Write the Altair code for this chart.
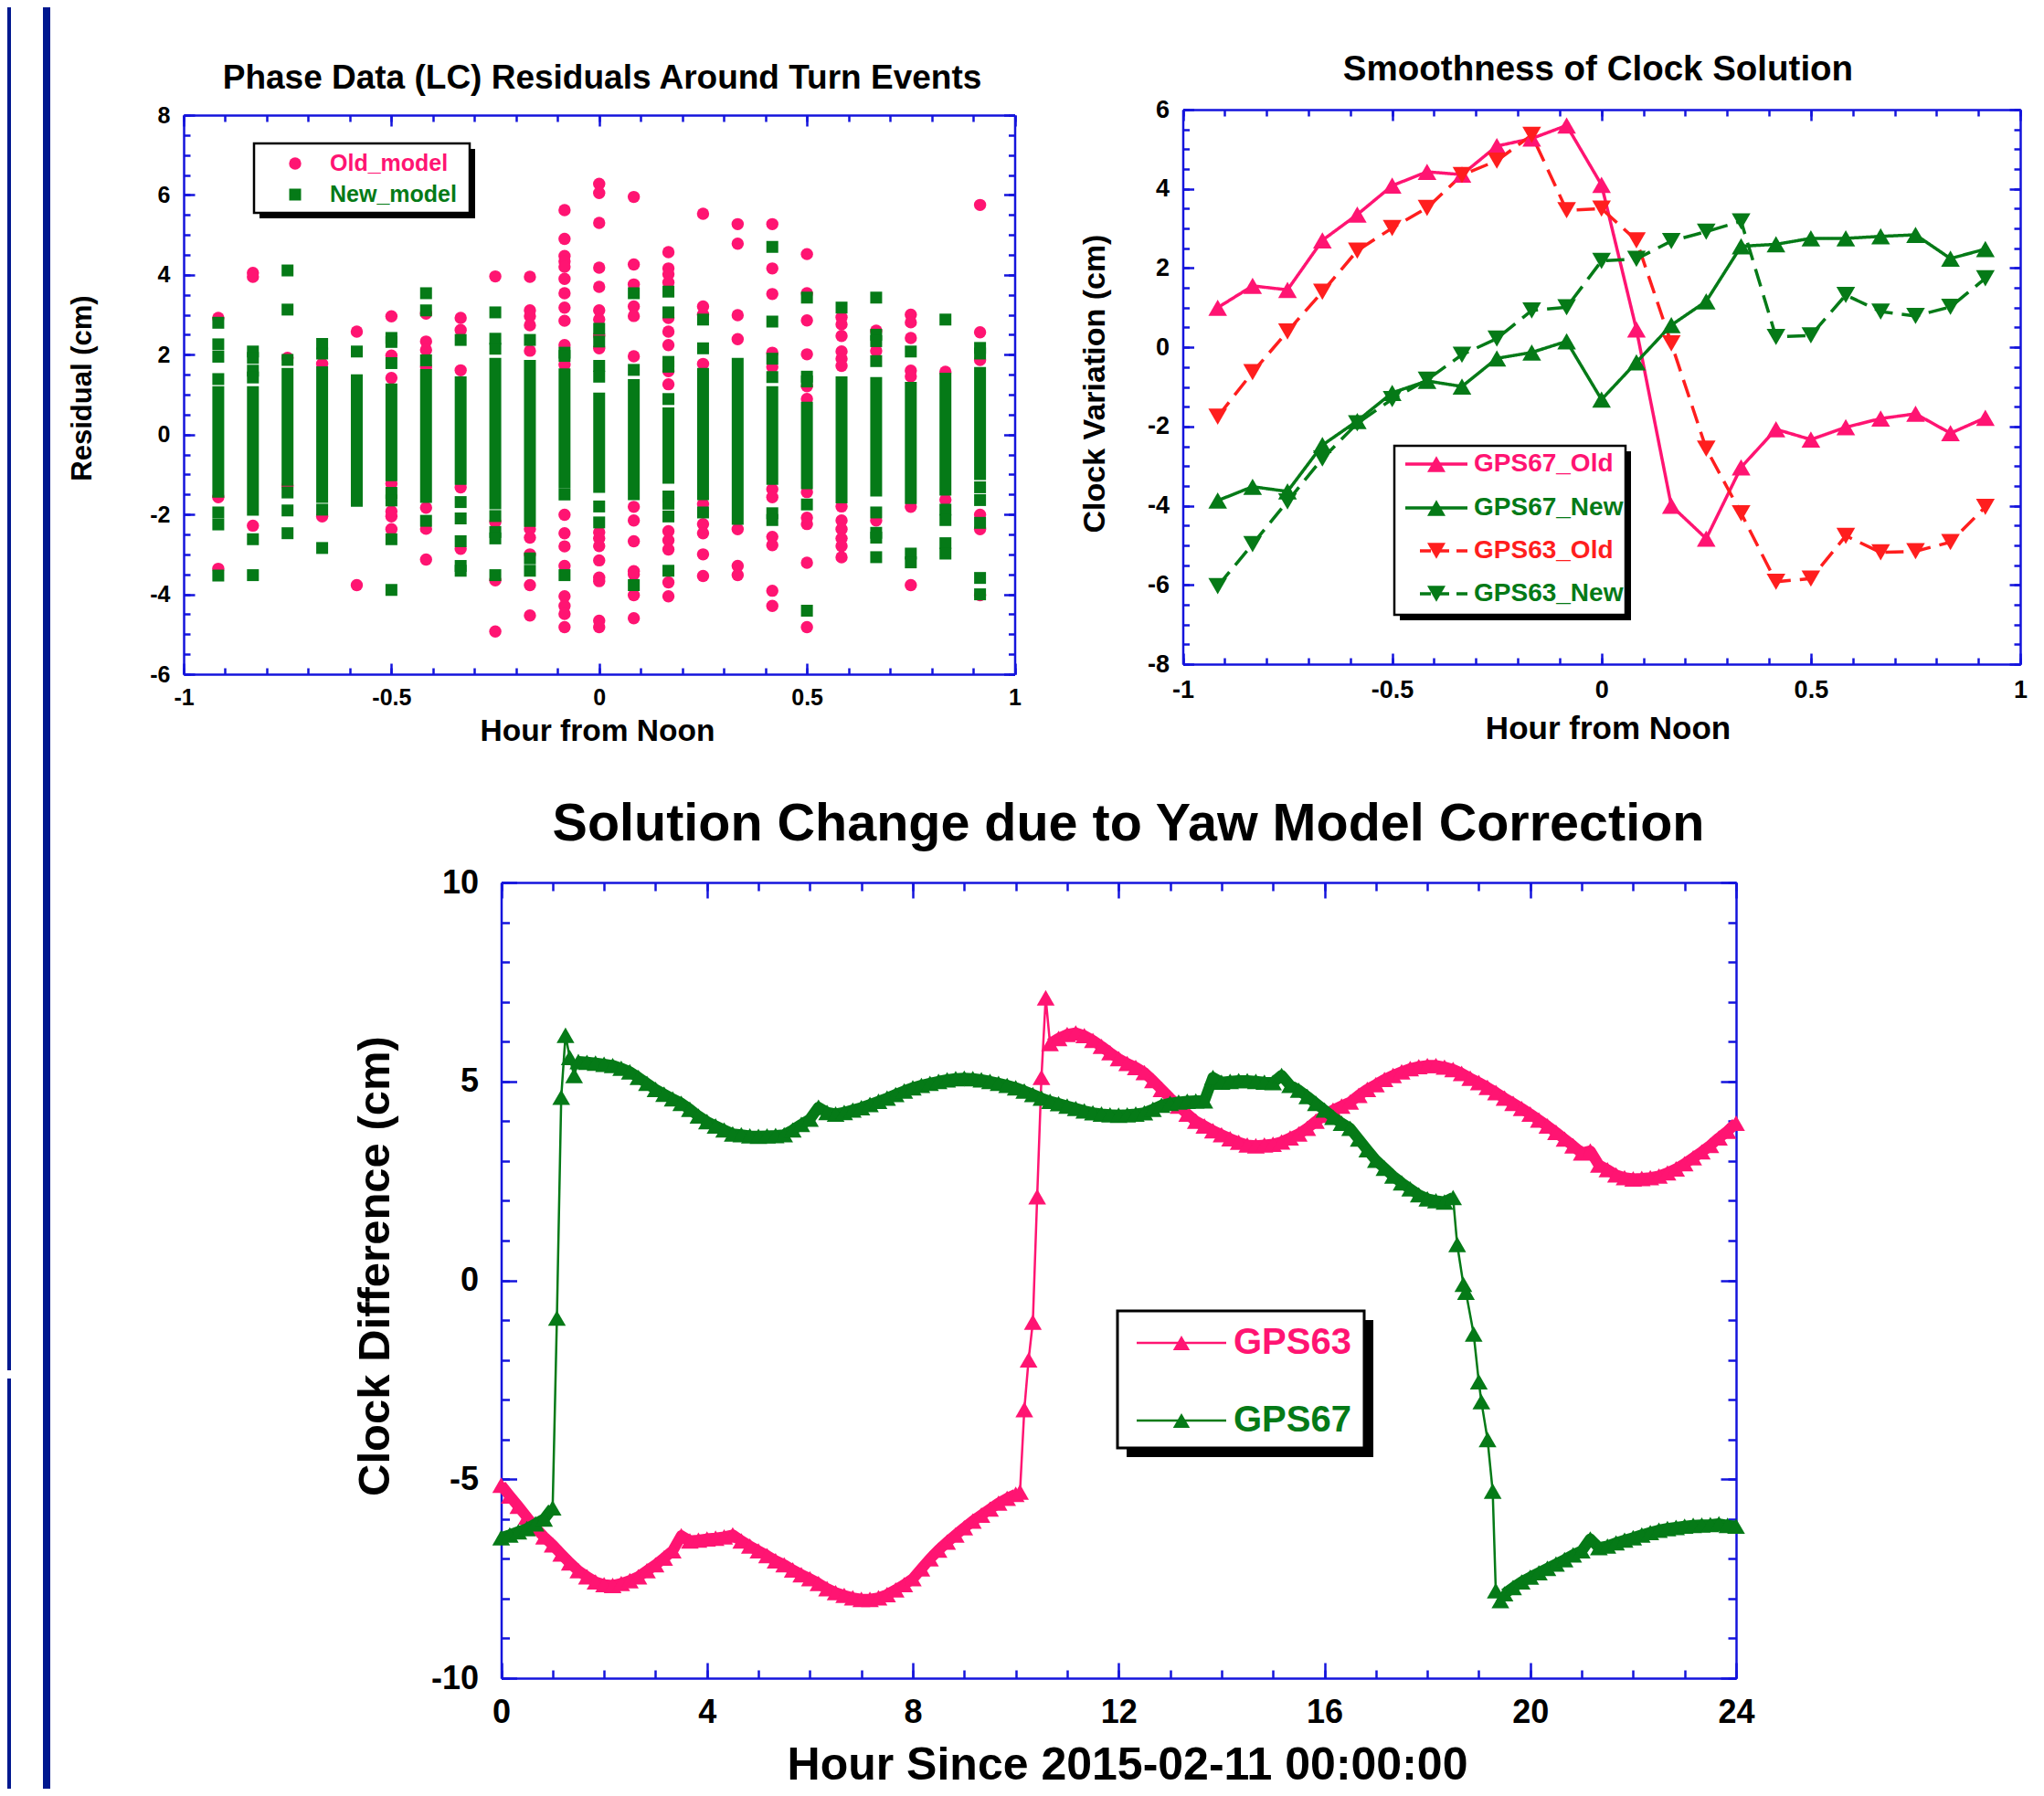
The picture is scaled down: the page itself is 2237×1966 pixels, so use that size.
import altair as alt
import pandas as pd

# ---------------- canvas / layout ----------------
W, H = 2221, 1950
BLUE = "#1414DC"
NAVY = "#00188F"
PINK = "#FF1472"
GREEN = "#057A17"
RED = "#FF1E1E"
FONT = "Liberation Sans"

PA = dict(x0=193, x1=1102.5, y0=118, y1=730)     # top-left panel frame
PB = dict(x0=1286.5, x1=2203, y0=112, y1=719)    # top-right panel frame
PC = dict(x0=540.5, x1=1892, y0=958, y1=1829)    # bottom panel frame

# ---------------- data: top-left (residuals) ----------------
COL_HOURS = [k / 12 for k in range(-11, 12)]
NEW_BAR_LO = [-1.58, -2.03, -1.28, -1.71, -1.81, -1.17, -1.71, -1.26, -1.87, -2.31, -1.35, -1.46,
              -1.64, -1.23, -1.64, -2.26, -1.26, -1.37, -1.72, -1.55, -1.74, -1.53, -1.14]
NEW_BAR_HI = [1.21, 1.21, 1.67, 1.71, 1.51, 1.28, 1.64, 1.46, 1.92, 1.87, 1.66, 1.05,
              1.39, 0.68, 1.67, 1.92, 1.21, 0.82, 1.46, 1.44, 1.32, 1.55, 1.69]
NEW_EXTRA = [
    [2.80, 2.26, 1.95, 1.39, -1.95, -2.25, -3.53],
    [2.08, 1.92, 1.60, 1.43, -2.62, -3.52],
    [4.11, 3.13, 1.87, -1.45, -1.90, -2.47],
    [2.27, 2.03, -1.88, -2.84],
    [2.08],
    [2.42, 2.32, 1.79, -1.46, -1.65, -2.62, -3.89],
    [3.54, 3.11, 1.86, -2.16],
    [2.37, -1.69, -2.10, -2.67, -3.29, -3.41],
    [3.06, 2.40, 2.15, -2.04, -2.44, -2.60, -3.52],
    [2.37, -3.10, -3.41],
    [2.05, 1.97, -1.50, -3.52],
    [2.65, 2.33, 1.72, 1.45, -1.80, -2.20],
    [3.54, 1.62, -3.77],
    [3.58, 3.06, 1.82, 1.70, 0.89, -1.55, -1.73, -2.05, -3.41],
    [2.88, 2.16, -1.95],
    [],
    [4.70, 2.83, 1.90, 1.44, -1.97, -2.14],
    [3.43, 1.45, 1.33, -1.75, -4.41],
    [3.18],
    [3.43, 2.50, 2.34, 1.84, -1.95, -2.46, -2.58, -3.07],
    [2.08, -2.98, -3.20],
    [2.88, -1.88, -2.14, -2.72, -2.98],
    [2.17, 2.03, -1.32, -1.64, -2.21, -3.59, -4.00],
]
OLD_DOTS = [
    [2.92, -1.57, -3.36],
    [4.05, 3.95, -2.28],
    [1.92, -1.28],
    [1.77, -2.05],
    [2.58, -3.77],
    [2.96, 1.98, 1.42, -1.23, -1.92, -2.05, -2.37],
    [3.03, 2.33, 2.12, 1.69, -1.83, -2.36, -3.13],
    [2.92, 2.62, 1.61, -1.32, -2.86],
    [3.96, -2.19, -3.65, -4.93],
    [3.95, 3.11, 2.97, 2.74, 2.10, -2.36, -2.58, -3.00, -3.77, -4.53],
    [5.62, 4.90, 4.47, 4.34, 4.20, 3.90, 3.54, 3.18, 2.85, 2.24, 1.75,
     -2.01, -2.47, -2.80, -3.29, -4.05, -4.29, -4.49, -4.82],
    [6.28, 6.05, 5.30, 4.18, 3.70, 3.11, 2.88, 2.48, 2.16,
     -2.45, -2.60, -2.79, -3.15, -3.58, -3.67, -4.66, -4.82],
    [5.95, 4.26, 3.76, 3.21, 2.97, 1.96, -1.81, -2.15, -2.67, -3.42, -3.50, -4.02, -4.60],
    [4.57, 4.16, 4.02, 3.81, 2.92, 2.58, 2.24, 1.59, 1.26, -2.42, -2.65, -2.88, -3.70, -4.05],
    [5.53, 3.21, 3.01, 1.77, -1.74, -2.24, -2.47, -3.00, -3.54],
    [5.27, 4.78, 2.99, 2.39, -2.37, -3.29, -3.52],
    [5.27, 4.16, 3.52, 2.05, 1.69, -1.37, -1.57, -2.56, -2.77, -3.91, -4.29],
    [4.52, 3.54, 2.86, 2.01, 1.21, 0.89, -1.44, -2.08, -2.24, -3.21, -4.82],
    [2.94, 2.76, 2.47, 2.08, 1.90, 1.72, -1.80, -2.15, -2.37, -2.60, -2.79, -3.07],
    [2.60, 2.10, -2.15],
    [3.00, 2.81, 2.42, 1.60, 1.46, -1.81, -3.77],
    [1.57, -1.63],
    [5.75, 2.56, 1.87, -2.01, -2.37, -4.02],
]

# ---------------- data: top-right (clock smoothness) ----------------
TR_SERIES = ["GPS67_Old", "GPS67_New", "GPS63_Old", "GPS63_New"]
GPS67_OLD = [1.00, 1.55, 1.45, 2.70, 3.35, 4.08, 4.43, 4.36, 5.08, 5.27, 5.60, 4.10,
             0.45, -4.00, -4.83, -3.03, -2.07, -2.33, -2.02, -1.80, -1.68, -2.17, -1.78]
GPS67_NEW = [-3.87, -3.52, -3.64, -2.47, -1.86, -1.15, -0.85, -0.99, -0.28, -0.13, 0.15, -1.32,
             -0.38, 0.56, 1.16, 2.55, 2.60, 2.75, 2.75, 2.80, 2.84, 2.24, 2.48]
GPS63_OLD = [-1.75, -0.63, 0.40, 1.40, 2.44, 3.01, 3.52, 4.35, 4.71, 5.36, 3.46, 3.50,
             2.70, 0.10, -2.56, -4.19, -5.92, -5.84, -4.76, -5.18, -5.15, -4.92, -4.03]
GPS63_NEW = [-6.03, -4.97, -3.89, -2.81, -1.92, -1.31, -0.82, -0.19, 0.22, 0.93, 1.01, 2.18,
             2.23, 2.68, 2.92, 3.18, 0.26, 0.30, 1.32, 0.90, 0.79, 1.02, 1.74]

# ---------------- data: bottom (clock difference, 10-min samples) ----------------
G63_SEG1_START = 0.0
G63_SEG1 = [-5.15, -5.42, -5.68, -5.95, -6.22, -6.45,
            -6.65, -6.88, -7.10, -7.30, -7.45, -7.58,
            -7.65, -7.67, -7.62, -7.55, -7.45, -7.30,
            -7.15, -6.98, -6.80, -6.42, -6.55, -6.53,
            -6.50, -6.48, -6.45, -6.40, -6.55, -6.68,
            -6.80, -6.92, -7.05, -7.15, -7.28, -7.40,
            -7.50, -7.62, -7.75, -7.85, -7.92, -7.98,
            -8.02, -8.02, -7.98, -7.90, -7.78, -7.65,
            -7.50, -7.25, -7.00, -6.78, -6.58, -6.40,
            -6.22, -6.05, -5.90, -5.75, -5.60, -5.48,
            -5.38]
G63_JUMP_H = [10.083, 10.167, 10.25, 10.333, 10.417, 10.5, 10.583]
G63_JUMP_V = [-5.32, -3.25, -2.00, -1.05, 2.10, 5.10, 7.10]
G63_SEG2_START = 64 / 6
G63_SEG2 = [5.95, 6.08,
            6.18, 6.22, 6.15, 6.03, 5.88, 5.72,
            5.57, 5.45, 5.35, 5.22, 5.02, 4.80,
            4.58, 4.38, 4.18, 4.00, 3.88, 3.76,
            3.66, 3.56, 3.47, 3.40, 3.38, 3.40,
            3.42, 3.48, 3.58, 3.68, 3.82, 4.00,
            4.15, 4.28, 4.38, 4.48, 4.65, 4.80,
            4.92, 5.05, 5.15, 5.24, 5.32, 5.37,
            5.40, 5.40, 5.36, 5.30, 5.20, 5.08,
            4.97, 4.85, 4.72, 4.58, 4.45, 4.32,
            4.18, 4.03, 3.88, 3.72, 3.55, 3.38,
            3.20, 3.25, 2.90, 2.78, 2.65, 2.58,
            2.55, 2.56, 2.58, 2.62, 2.70, 2.80,
            2.93, 3.08, 3.23, 3.39, 3.58, 3.75,
            3.95]

G67_SEG1_START = 0.0
G67_SEG1 = [-6.47, -6.40, -6.32, -6.24, -6.12, -6.00, -5.72]
G67_JUMP1_H = [1.083, 1.167, 1.25, 1.333, 1.417]
G67_JUMP1_V = [-0.95, 4.60, 6.16, 5.60, 5.15]
G67_SEG2_START = 1.5
G67_SEG2 = [5.50, 5.48, 5.46,
            5.43, 5.40, 5.33, 5.24, 5.10, 4.95,
            4.80, 4.68, 4.56, 4.45, 4.30, 4.13,
            3.99, 3.88, 3.78, 3.68, 3.66, 3.63,
            3.62, 3.63, 3.64, 3.66, 3.78, 3.92,
            4.05, 4.35, 4.22, 4.18, 4.22, 4.28,
            4.34, 4.42, 4.50, 4.58, 4.67, 4.76,
            4.84, 4.90, 4.95, 5.00, 5.04, 5.07,
            5.08, 5.07, 5.04, 5.00, 4.95, 4.90,
            4.84, 4.76, 4.67, 4.58, 4.50, 4.44,
            4.38, 4.32, 4.26, 4.21, 4.18, 4.16,
            4.15, 4.16, 4.18, 4.21, 4.30, 4.40,
            4.45, 4.48, 4.50, 4.51, 4.51, 5.10,
            4.98, 5.00, 5.02, 5.02, 5.00, 4.98,
            4.97, 5.15, 4.90, 4.78, 4.62, 4.45,
            4.28, 4.10, 3.95, 3.82, 3.55, 3.28,
            3.02, 2.82, 2.62, 2.45, 2.30, 2.15,
            2.05, 2.00, 1.97, 2.08]
G67_JUMP2_H = [18.58, 18.70, 18.75, 18.90, 19.00, 19.05, 19.17, 19.27, 19.33, 19.42]
G67_JUMP2_V = [0.90, -0.10, -0.30, -1.35, -2.55, -3.05, -4.00, -5.30, -7.80, -8.05]
G67_SEG3_START = 19.5
G67_SEG3 = [-7.88, -7.72, -7.58,
            -7.46, -7.35, -7.24, -7.13, -7.02, -6.90,
            -6.80, -6.50, -6.72, -6.68, -6.60, -6.53,
            -6.47, -6.40, -6.34, -6.28, -6.24, -6.21,
            -6.18, -6.16, -6.15, -6.14, -6.12, -6.16,
            -6.18]

# ---------------- axis tick values ----------------
A_XMAJ = [-1, -0.5, 0, 0.5, 1]
A_XMIN = [round(-1 + 0.1 * i, 2) for i in range(21)]
A_YMAJ = [-6, -4, -2, 0, 2, 4, 6, 8]
A_YMIN = [-6 + 0.5 * i for i in range(29)]
B_YMAJ = [-8, -6, -4, -2, 0, 2, 4, 6]
B_YMIN = [-8 + 0.5 * i for i in range(29)]
C_XMAJ = [0, 4, 8, 12, 16, 20, 24]
C_XMIN = list(range(25))
C_YMAJ = [-10, -5, 0, 5, 10]
C_YMIN = list(range(-10, 11))


# ---------------- helpers ----------------
def scale_x(P, dom):
    return alt.Scale(domain=dom, range=[P["x0"], P["x1"]], nice=False, zero=False)


def scale_y(P, dom):
    return alt.Scale(domain=dom, range=[P["y1"], P["y0"]], nice=False, zero=False)


def axes_layers(P, xdom, ydom, xmaj, xmin, ymaj, ymin, tmaj, tmin, lsize, xpad, ypad):
    base = pd.DataFrame({"x": [xdom[0]], "y": [ydom[0]]})
    common = dict(grid=False, title=None, tickColor=BLUE, tickWidth=2.5,
                  domainColor=BLUE, domainWidth=2.5, labels=False, ticks=True)

    def ax(orient, offset, values, size, domain):
        return alt.Axis(orient=orient, offset=offset, values=values, tickSize=size,
                        domain=domain, **common)

    specs = [
        (ax("top", -P["y1"], xmaj, tmaj, True), ax("right", P["x0"] - W, ymaj, tmaj, True)),
        (ax("bottom", P["y0"] - H, xmaj, tmaj, True), ax("left", -P["x1"], ymaj, tmaj, True)),
        (ax("top", -P["y1"], xmin, tmin, False), ax("right", P["x0"] - W, ymin, tmin, False)),
        (ax("bottom", P["y0"] - H, xmin, tmin, False), ax("left", -P["x1"], ymin, tmin, False)),
    ]
    out = []
    for xa, ya in specs:
        out.append(alt.Chart(base).mark_point(opacity=0).encode(
            x=alt.X("x:Q", scale=scale_x(P, xdom), axis=xa),
            y=alt.Y("y:Q", scale=scale_y(P, ydom), axis=ya)))
    lab = dict(grid=False, title=None, domain=False, ticks=False, labels=True,
               labelFont=FONT, labelFontSize=lsize, labelFontWeight="bold",
               labelColor="black", labelOverlap=False, labelFlush=False,
               labelExpr="toString(datum.value)", labelAngle=0)
    out.append(alt.Chart(base).mark_point(opacity=0).encode(
        x=alt.X("x:Q", scale=scale_x(P, xdom),
                axis=alt.Axis(orient="bottom", offset=P["y1"] - H, values=xmaj,
                              labelPadding=xpad, **lab)),
        y=alt.Y("y:Q", scale=scale_y(P, ydom),
                axis=alt.Axis(orient="left", offset=-P["x0"], values=ymaj,
                              labelPadding=ypad, **lab))))
    return out


def text(s, x, y, size, color="black", align="center", baseline="alphabetic", angle=0):
    return alt.Chart(pd.DataFrame({"t": [s]})).mark_text(
        font=FONT, fontSize=size, fontWeight="bold", color=color, align=align,
        baseline=baseline, angle=angle).encode(x=alt.value(x), y=alt.value(y), text="t:N")


def rect(x0, x1, y0, y1, fill, stroke=None, sw=0):
    kw = dict(fill=fill, opacity=1)
    if stroke:
        kw.update(stroke=stroke, strokeWidth=sw)
    return alt.Chart(pd.DataFrame({"a": [0]})).mark_rect(**kw).encode(
        x=alt.value(x0), x2=alt.value(x1), y=alt.value(y0), y2=alt.value(y1))


def symbol(x, y, shape, color, size):
    return alt.Chart(pd.DataFrame({"a": [0]})).mark_point(
        shape=shape, filled=True, size=size, color=color, opacity=1).encode(
        x=alt.value(x), y=alt.value(y))


def hline(x0, x1, y, color, width, dash=None):
    kw = dict(color=color, strokeWidth=width)
    if dash:
        kw["strokeDash"] = dash
    return alt.Chart(pd.DataFrame({"a": [0]})).mark_rule(**kw).encode(
        x=alt.value(x0), x2=alt.value(x1), y=alt.value(y))


def legend_box(x0, x1, y0, y1, shadow, bw):
    return [rect(x0 + shadow, x1 + shadow, y0 + shadow, y1 + shadow, "black"),
            rect(x0, x1, y0, y1, "white", "black", bw)]


layers = []

# ---------------- left border stripes ----------------
layers += [rect(0, 4, 0, 1492, NAVY), rect(0, 4, 1501, H, NAVY), rect(39, 47, 0, H, NAVY)]

# ---------------- panel A ----------------
AX, AY = [-1, 1], [-6, 8]
layers += axes_layers(PA, AX, AY, A_XMAJ, A_XMIN, A_YMAJ, A_YMIN, 12, 7, 25, 13, 15)

dots = pd.DataFrame([(COL_HOURS[i], v) for i, vals in enumerate(OLD_DOTS) for v in vals],
                    columns=["x", "y"])
sq = pd.DataFrame([(COL_HOURS[i], v) for i, vals in enumerate(NEW_EXTRA) for v in vals],
                  columns=["x", "y"])
bars = pd.DataFrame({"x": COL_HOURS, "lo": NEW_BAR_LO, "hi": NEW_BAR_HI})

layers.append(alt.Chart(dots).mark_point(shape="circle", filled=True, size=180, color=PINK,
                                         opacity=1).encode(
    x=alt.X("x:Q", scale=scale_x(PA, AX), axis=None),
    y=alt.Y("y:Q", scale=scale_y(PA, AY), axis=None)))
layers.append(alt.Chart(bars).mark_rule(strokeWidth=13, color=GREEN, strokeCap="butt").encode(
    x=alt.X("x:Q", scale=scale_x(PA, AX), axis=None),
    y=alt.Y("lo:Q", scale=scale_y(PA, AY), axis=None),
    y2="hi:Q"))
layers.append(alt.Chart(sq).mark_point(shape="square", filled=True, size=169, color=GREEN,
                                       opacity=1).encode(
    x=alt.X("x:Q", scale=scale_x(PA, AX), axis=None),
    y=alt.Y("y:Q", scale=scale_y(PA, AY), axis=None)))

layers += legend_box(270, 506, 149, 225, 6, 2.5)
layers += [symbol(315, 171, "circle", PINK, 180), symbol(315, 205, "square", GREEN, 169),
           text("Old_model", 353, 171, 25, PINK, "left", "middle"),
           text("New_model", 353, 205, 25, GREEN, "left", "middle")]
layers += [text("Phase Data (LC) Residuals Around Turn Events", 651, 89, 37),
           text("Hour from Noon", 646, 803, 33.5),
           text("Residual (cm)", 92, 417, 31, angle=270)]

# ---------------- panel B ----------------
BX, BY = [-1, 1], [-8, 6]
layers += axes_layers(PB, BX, BY, A_XMAJ, A_XMIN, B_YMAJ, B_YMIN, 12, 7, 27, 15, 15)

tr = pd.DataFrame({
    "x": COL_HOURS * 4,
    "y": GPS67_OLD + GPS67_NEW + GPS63_OLD + GPS63_NEW,
    "series": sum([[s] * len(COL_HOURS) for s in TR_SERIES], []),
})
TR_COLORS = [PINK, GREEN, RED, GREEN]
TR_DASH = [[1, 0], [1, 0], [20, 10], [20, 10]]
TR_SHAPES = ["triangle-up", "triangle-up", "triangle-down", "triangle-down"]
layers.append(alt.Chart(tr).mark_line(strokeWidth=3.5).encode(
    x=alt.X("x:Q", scale=scale_x(PB, BX), axis=None),
    y=alt.Y("y:Q", scale=scale_y(PB, BY), axis=None),
    color=alt.Color("series:N", scale=alt.Scale(domain=TR_SERIES, range=TR_COLORS), legend=None),
    strokeDash=alt.StrokeDash("series:N", scale=alt.Scale(domain=TR_SERIES, range=TR_DASH),
                              legend=None)))
layers.append(alt.Chart(tr).mark_point(filled=True, size=420, opacity=1).encode(
    x=alt.X("x:Q", scale=scale_x(PB, BX), axis=None),
    y=alt.Y("y:Q", scale=scale_y(PB, BY), axis=None),
    color=alt.Color("series:N", scale=alt.Scale(domain=TR_SERIES, range=TR_COLORS), legend=None),
    shape=alt.Shape("series:N", scale=alt.Scale(domain=TR_SERIES, range=TR_SHAPES), legend=None)))

layers += legend_box(1518, 1771, 480, 665, 6, 2.5)
for s, c, d, shp, yy in zip(TR_SERIES, TR_COLORS, TR_DASH, TR_SHAPES, [500, 548, 595, 642]):
    if d[1] == 0:
        layers.append(hline(1530, 1598, yy, c, 3.5))
    else:
        layers.append(hline(1546, 1598, yy, c, 3.5, [12, 8]))
    layers.append(symbol(1564, yy, shp, c, 400))
    layers.append(text(s, 1605, yy, 28, c, "left", "middle"))
layers += [text("Smoothness of Clock Solution", 1741, 80, 38.5),
           text("Hour from Noon", 1752, 801, 35),
           text("Clock Variation (cm)", 1201, 412, 34, angle=270)]

# ---------------- panel C ----------------
CX, CY = [0, 24], [-10, 10]
layers += axes_layers(PC, CX, CY, C_XMAJ, C_XMIN, C_YMAJ, C_YMIN, 17, 9, 36, 20, 25)


def series_df(parts):
    hs, vs, seg = [], [], []
    for n, (kind, a, b) in enumerate(parts):
        if kind == "grid":
            hs += [round(a + i / 6, 4) for i in range(len(b))]
            vs += b
            seg += [n] * len(b)
        else:
            hs += a
            vs += b
            seg += [-1] * len(b)
    return pd.DataFrame({"h": hs, "v": vs, "seg": seg}).sort_values("h")


d63 = series_df([("grid", G63_SEG1_START, G63_SEG1), ("pts", G63_JUMP_H, G63_JUMP_V),
                 ("grid", G63_SEG2_START, G63_SEG2)])
d67 = series_df([("grid", G67_SEG1_START, G67_SEG1), ("pts", G67_JUMP1_H, G67_JUMP1_V),
                 ("grid", G67_SEG2_START, G67_SEG2), ("pts", G67_JUMP2_H, G67_JUMP2_V),
                 ("grid", G67_SEG3_START, G67_SEG3)])
for d, c in [(d63, PINK), (d67, GREEN)]:
    enc = dict(x=alt.X("h:Q", scale=scale_x(PC, CX), axis=None),
               y=alt.Y("v:Q", scale=scale_y(PC, CY), axis=None))
    smooth = d[d["seg"] >= 0]
    layers.append(alt.Chart(smooth).mark_line(strokeWidth=12, color=c, strokeJoin="round").encode(
        detail="seg:N", **enc))
    layers.append(alt.Chart(d).mark_line(strokeWidth=2.5, color=c).encode(**enc))
    layers.append(alt.Chart(d).mark_point(shape="triangle-up", filled=True, size=380, color=c,
                                          opacity=1).encode(**enc))

layers += legend_box(1215, 1485, 1427, 1577, 10, 3)
layers += [hline(1236, 1334, 1462, PINK, 2.5), symbol(1285, 1462, "triangle-up", PINK, 340),
           text("GPS63", 1342, 1462, 40, PINK, "left", "middle"),
           hline(1236, 1334, 1547, GREEN, 2.5), symbol(1285, 1547, "triangle-up", GREEN, 340),
           text("GPS67", 1342, 1547, 40, GREEN, "left", "middle")]
layers += [text("Solution Change due to Yaw Model Correction", 1227, 912, 57.5),
           text("Hour Since 2015-02-11 00:00:00", 1226, 1940, 50),
           text("Clock Difference (cm)", 418, 1378, 49, angle=270)]

chart = alt.layer(*layers).resolve_scale(x="independent", y="independent").properties(
    width=W, height=H, autosize=alt.AutoSizeParams(type="none"), padding=0
).configure_view(stroke=None)

chart.save("out.html", embed_options={"renderer": "svg", "actions": False})
